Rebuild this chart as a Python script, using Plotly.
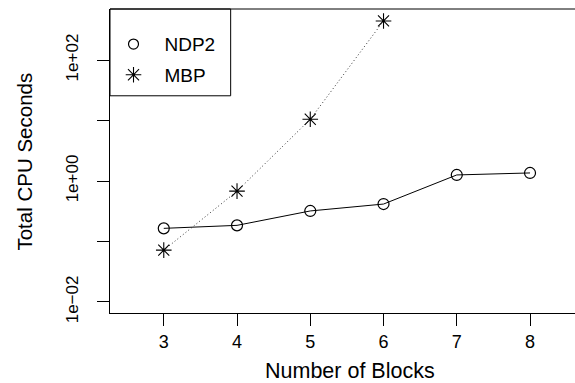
import plotly.graph_objects as go

blocks = [3, 4, 5, 6, 7, 8]
ndp2 = [0.165, 0.185, 0.32, 0.416, 1.26, 1.36]
mbp_blocks = [3, 4, 5, 6]
mbp = [0.072, 0.68, 10.5, 443]
ytick_vals = [0.01, 0.1, 1, 10, 100]
ytick_text = ["1e\u221202", "", "1e+00", "", "1e+02"]

FONT = "Liberation Sans, Arial, Helvetica, sans-serif"
W, H = 575, 383
ML, MT, MB = 109.5, 9, 70.3
PW = W - ML
PH = H - MT - MB

circle = dict(symbol="circle-open", size=11, color="black", line=dict(width=1.2, color="black"))
star = dict(symbol="asterisk-open", size=13, color="black", line=dict(width=1.1, color="black"))

fig = go.Figure()
fig.add_trace(go.Scatter(x=blocks, y=ndp2, mode="lines+markers", name="NDP2",
                         line=dict(color="black", width=1), marker=circle, showlegend=False))
fig.add_trace(go.Scatter(x=mbp_blocks, y=mbp, mode="lines+markers", name="MBP",
                         line=dict(color="#333", width=1, dash="1px,2.5px"), marker=star,
                         showlegend=False))
# legend entries (markers only, as in the R legend)
fig.add_trace(go.Scatter(x=[None], y=[None], mode="markers", name="NDP2", legendgroup="a",
                         marker=dict(circle, size=10)))
fig.add_trace(go.Scatter(x=[None], y=[None], mode="markers", name="MBP", legendgroup="b",
                         marker=dict(star, size=13)))

xr = [2.266, 2.266 + PW / 73.33]
fig.update_layout(
    width=W, height=H,
    margin=dict(l=ML, r=0, t=MT, b=MB),
    paper_bgcolor="white", plot_bgcolor="white",
    font=dict(family=FONT, size=18, color="black"),
    xaxis=dict(range=xr, tickvals=blocks, ticks="outside", ticklen=12, tickcolor="black",
               showline=True, linecolor="black", linewidth=1, showgrid=False, zeroline=False,
               tickfont=dict(size=18)),
    yaxis=dict(type="log", range=[-2.182, 2.844], tickvals=ytick_vals, ticktext=ytick_text,
               ticks="outside", ticklen=12, tickcolor="black", tickangle=-90,
               showline=True, linecolor="black", linewidth=1, showgrid=False, zeroline=False,
               tickfont=dict(size=17), ticklabelstandoff=12),
    legend=dict(x=(102 - ML) / PW, y=1 - (25.2 - MT) / PH, xanchor="left", yanchor="top",
                borderwidth=0, bgcolor="rgba(0,0,0,0)", font=dict(size=19),
                tracegroupgap=3, itemwidth=52),
    shapes=[
        dict(type="line", xref="paper", yref="paper", x0=0, x1=1, y0=1, y1=1,
             line=dict(color="black", width=1)),
        dict(type="rect", xref="paper", yref="paper", x0=0, x1=(230.3 - ML) / PW,
             y0=1 - (95.7 - MT) / PH, y1=1, line=dict(color="black", width=1),
             fillcolor="white", layer="below"),
    ],
    annotations=[
        dict(text="Number of Blocks", xref="paper", yref="paper",
             x=(350 - ML) / PW, y=0, yshift=-(370.5 - (H - MB)), showarrow=False,
             font=dict(size=21.5), xanchor="center", yanchor="middle"),
        dict(text="Total CPU Seconds", xref="paper", yref="paper", textangle=-90,
             x=0, xshift=23.9 - ML, y=1 - (161 - MT) / PH, showarrow=False,
             font=dict(size=20.5), xanchor="center", yanchor="middle"),
    ],
)
fig.write_html("out.html")
